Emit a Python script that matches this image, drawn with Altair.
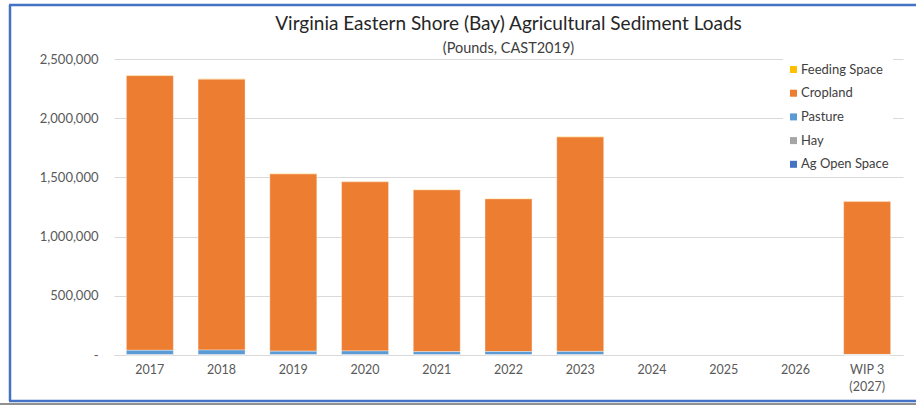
import altair as alt
import pandas as pd

years = ["2017", "2018", "2019", "2020", "2021", "2022", "2023", "2024", "2025", "2026", "WIP 3 (2027)"]
series = ["Feeding Space", "Cropland", "Pasture", "Hay", "Ag Open Space"]
colors = ["#FFC000", "#ED7D31", "#5B9BD5", "#A5A5A5", "#4472C4"]
stack_rank = {"Ag Open Space": 0, "Hay": 1, "Pasture": 2, "Cropland": 3, "Feeding Space": 4}

feeding = [4000, 4000, 3500, 3500, 3500, 3500, 4000, None, None, None, 3500]
cropland = [2320000, 2287000, 1496000, 1428000, 1366000, 1289000, 1810000, None, None, None, 1291000]
pasture = [36000, 38000, 29000, 31000, 25000, 26000, 27000, None, None, None, 3000]
hay = [2000, 2000, 2000, 2000, 2000, 2000, 2000, None, None, None, 1000]
ag_open = [1500, 1500, 1500, 1500, 1500, 1500, 1500, None, None, None, 500]

y_ticks = [0, 500000, 1000000, 1500000, 2000000, 2500000]

title_text = "Virginia Eastern Shore (Bay) Agricultural Sediment Loads"
subtitle_text = "(Pounds, CAST2019)"

values = {"Feeding Space": feeding, "Cropland": cropland, "Pasture": pasture,
          "Hay": hay, "Ag Open Space": ag_open}
rows = []
for s in series:
    for yr, v in zip(years, values[s]):
        if v is not None:
            rows.append({"year": yr, "source": s, "load": v, "rank": stack_rank[s]})
df = pd.DataFrame(rows)

FONT = "Lato"
W, H = 789, 296
LEFT, TOP = 114, 59

bars = alt.Chart(df).mark_bar(stroke="white", strokeWidth=0.6, strokeOpacity=0.6).encode(
    x=alt.X("year:N", sort=years,
            scale=alt.Scale(domain=years, paddingInner=0.345, paddingOuter=0.1725),
            axis=alt.Axis(title=None, labelAngle=0, ticks=False, domain=True,
                          domainColor="#D9D9D9", labelPadding=8, labelLineHeight=17.5,
                          labelExpr="datum.value == 'WIP 3 (2027)' ? ['WIP 3', '(2027)'] : datum.value")),
    y=alt.Y("load:Q", stack="zero",
            scale=alt.Scale(domain=[0, 2500000], nice=False),
            axis=alt.Axis(title=None, values=y_ticks, ticks=False, domain=False,
                          labelPadding=16, gridColor="#D9D9D9", labelFontSize=13,
                          labelExpr="datum.value == 0 ? '-\u2007\u2007' : format(datum.value, ',')")),
    color=alt.Color("source:N",
                    scale=alt.Scale(domain=series, range=colors),
                    legend=alt.Legend(orient="none", legendX=669, legendY=0, title=None,
                                      symbolType="square", symbolSize=49, symbolStrokeWidth=0,
                                      labelFontSize=13, labelFont=FONT, labelColor="#404040",
                                      labelOffset=1, rowPadding=9.7, padding=4,
                                      fillColor="white")),
    order=alt.Order("rank:Q", sort="ascending"),
)

title_mark = alt.Chart(alt.Data(values=[{"t": title_text}])).mark_text(
    font=FONT, fontSize=19, color="#262626", align="center", baseline="middle"
).encode(text="t:N", x=alt.value(W / 2), y=alt.value(24 - TOP))
subtitle_mark = alt.Chart(alt.Data(values=[{"t": subtitle_text}])).mark_text(
    font=FONT, fontSize=14.5, color="#404040", align="center", baseline="middle"
).encode(text="t:N", x=alt.value(W / 2), y=alt.value(49 - TOP))

frame_blue = alt.Chart(alt.Data(values=[{"x": 0}])).mark_rule(color="#4472C4", strokeWidth=2.5)
left_border = frame_blue.encode(x=alt.value(10 - LEFT), y=alt.value(5 - TOP), y2=alt.value(401 - TOP))
top_border = frame_blue.encode(x=alt.value(9 - LEFT), x2=alt.value(916 - LEFT), y=alt.value(5 - TOP))
bottom_border = frame_blue.encode(x=alt.value(9 - LEFT), x2=alt.value(916 - LEFT), y=alt.value(401 - TOP))
black_line = alt.Chart(alt.Data(values=[{"x": 0}])).mark_rule(color="#222222", strokeWidth=1).encode(
    x=alt.value(0 - LEFT), x2=alt.value(916 - LEFT), y=alt.value(404 - TOP))

chart = alt.layer(bars, title_mark, subtitle_mark, left_border, top_border, bottom_border,
                  black_line).properties(
    width=W, height=H,
    autosize=alt.AutoSizeParams(type="none"),
    padding={"left": LEFT, "top": TOP, "right": 916 - LEFT - W, "bottom": 405 - TOP - H},
).configure_view(stroke=None).configure_axis(
    labelFont=FONT, labelFontSize=12.5, labelColor="#595959", grid=True
).configure_axisX(grid=False)

chart.save("out.html", embed_options={"renderer": "svg", "actions": False})
